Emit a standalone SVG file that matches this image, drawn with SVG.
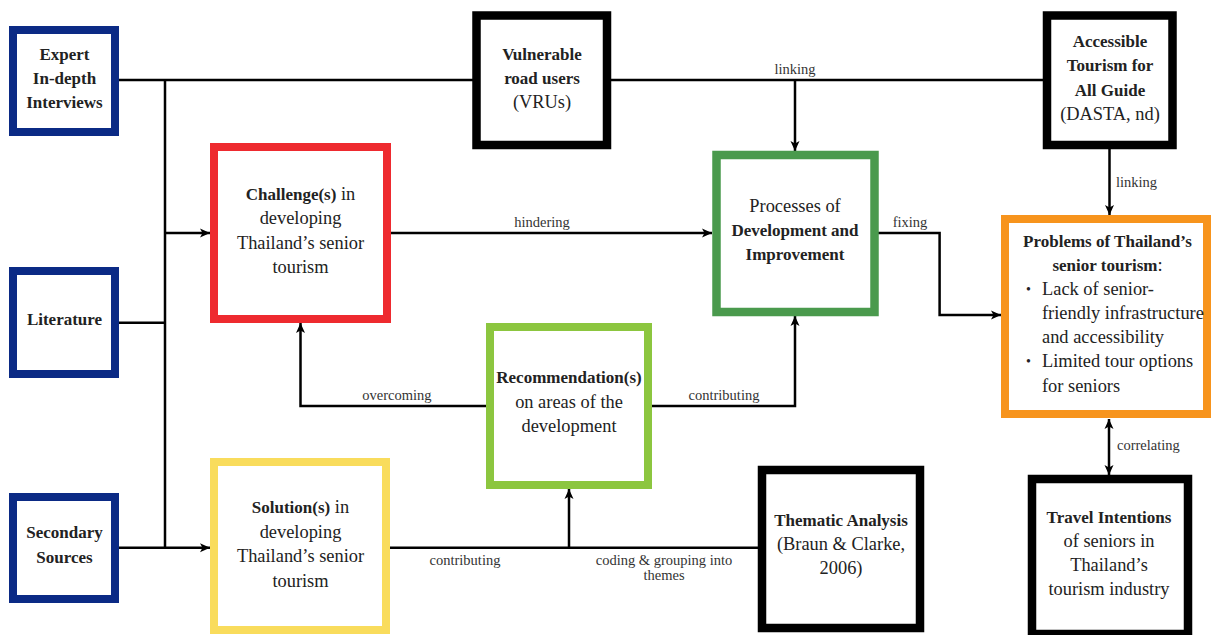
<svg xmlns="http://www.w3.org/2000/svg" width="1212" height="635" viewBox="0 0 1212 635">
  <style>
    .box { fill: #ffffff; stroke-width: 8; }
    .navy { stroke: #0b2a85; }
    .blk { stroke: #000000; stroke-width: 8.5; }
    .red { stroke: #ee2a2f; }
    .dgreen { stroke: #4a9a4d; stroke-width: 8.5; }
    .lgreen { stroke: #8cc63f; }
    .yellow { stroke: #f9dc5c; }
    .orange { stroke: #f7941d; }
    text { font-family: "Liberation Serif", "Times New Roman", serif; fill: #222222; }
    .t { font-size: 18.4px; text-anchor: middle; }
    .b { font-weight: bold; font-size: 17px; }
    .lbl { font-size: 14.5px; fill: #333333; }
    .mid { text-anchor: middle; }
    .wire { fill: none; stroke: #000000; stroke-width: 2.5; }
    .arr { marker-end: url(#head); }
  </style>
  <defs>
    <marker id="head" markerUnits="userSpaceOnUse" markerWidth="11" markerHeight="10" refX="10" refY="5" orient="auto-start-reverse">
      <path d="M0,0.5 L10,5 L0,9.5 L2.5,5 z" fill="#000000"/>
    </marker>
  </defs>

  <!-- connectors -->
  <g id="connectors">
    <path class="wire" d="M119,80 H1043"/>
    <path class="wire" d="M165,80 V547.7"/>
    <path class="wire" d="M119,322.7 H165"/>
    <path class="wire arr" d="M165,233 H210"/>
    <path class="wire arr" d="M119,547.7 H210"/>
    <path class="wire arr" d="M795,80 V151"/>
    <path class="wire arr" d="M391,233 H712"/>
    <path class="wire arr" d="M878,233 H939.6 V315 H1001"/>
    <path class="wire arr" d="M1109.5,149 V215"/>
    <path class="wire arr" d="M1109,419 V475" style="marker-start: url(#head)"/>
    <path class="wire arr" d="M486,406 H300.5 V323"/>
    <path class="wire arr" d="M652,406 H795 V316"/>
    <path class="wire" d="M390,547.7 H758"/>
    <path class="wire arr" d="M569,547.7 V489"/>

    <text class="lbl mid" x="795" y="74">linking</text>
    <text class="lbl mid" x="542" y="227">hindering</text>
    <text class="lbl mid" x="910" y="227">fixing</text>
    <text class="lbl" x="1116" y="187">linking</text>
    <text class="lbl mid" x="397" y="400">overcoming</text>
    <text class="lbl mid" x="724" y="400">contributing</text>
    <text class="lbl mid" x="465" y="565">contributing</text>
    <text class="lbl mid" x="664" y="565">coding &amp; grouping into</text>
    <text class="lbl mid" x="664" y="580">themes</text>
    <text class="lbl" x="1117" y="450">correlating</text>
  </g>

  <!-- source boxes -->
  <g id="expert">
    <rect class="box navy" x="13" y="30" width="102" height="102"/>
    <text class="t b" x="64.5" y="60">Expert</text>
    <text class="t b" x="64.5" y="84">In-depth</text>
    <text class="t b" x="64.5" y="108">Interviews</text>
  </g>
  <g id="literature">
    <rect class="box navy" x="13" y="271" width="102" height="103"/>
    <text class="t b" x="64.5" y="325">Literature</text>
  </g>
  <g id="secondary">
    <rect class="box navy" x="13" y="497" width="102" height="102"/>
    <text class="t b" x="64.5" y="538">Secondary</text>
    <text class="t b" x="64.5" y="563">Sources</text>
  </g>

  <g id="vrus">
    <rect class="box blk" x="476.5" y="15.5" width="130.5" height="129.5"/>
    <text class="t b" x="542" y="60">Vulnerable</text>
    <text class="t b" x="542" y="84">road users</text>
    <text class="t" x="542" y="108">(VRUs)</text>
  </g>

  <g id="dasta">
    <rect class="box blk" x="1047" y="15.5" width="125.5" height="129.5"/>
    <text class="t b" x="1110" y="47">Accessible</text>
    <text class="t b" x="1110" y="71">Tourism for</text>
    <text class="t b" x="1110" y="96">All Guide</text>
    <text class="t" x="1110" y="120">(DASTA, nd)</text>
  </g>

  <g id="challenge">
    <rect class="box red" x="214" y="147" width="173" height="172"/>
    <text class="t" x="300.5" y="200"><tspan class="b">Challenge(s)</tspan> in</text>
    <text class="t" x="300.5" y="224">developing</text>
    <text class="t" x="300.5" y="249">Thailand’s senior</text>
    <text class="t" x="300.5" y="273">tourism</text>
  </g>

  <g id="processes">
    <rect class="box dgreen" x="716.5" y="155" width="158" height="157"/>
    <text class="t" x="795" y="212">Processes of</text>
    <text class="t b" x="795" y="236">Development and</text>
    <text class="t b" x="795" y="260">Improvement</text>
  </g>

  <g id="recommendation">
    <rect class="box lgreen" x="490" y="327" width="158" height="158"/>
    <text class="t b" x="569" y="383">Recommendation(s)</text>
    <text class="t" x="569" y="408">on areas of the</text>
    <text class="t" x="569" y="432">development</text>
  </g>

  <g id="problems">
    <rect class="box orange" x="1005" y="219" width="202" height="195"/>
    <text class="t b" x="1107.5" y="247">Problems of Thailand’s</text>
    <text class="t" x="1107.5" y="271"><tspan class="b">senior tourism</tspan>:</text>
    <text font-size="14" x="1026" y="294">•</text>
    <text font-size="18.4" x="1042" y="295">Lack of senior-</text>
    <text font-size="18.4" x="1042" y="319">friendly infrastructure</text>
    <text font-size="18.4" x="1042" y="343">and accessibility</text>
    <text font-size="14" x="1026" y="366">•</text>
    <text font-size="18.4" x="1042" y="367">Limited tour options</text>
    <text font-size="18.4" x="1042" y="392">for seniors</text>
  </g>

  <g id="solution">
    <rect class="box yellow" x="214" y="462" width="172" height="168"/>
    <text class="t" x="300.5" y="513"><tspan class="b">Solution(s)</tspan> in</text>
    <text class="t" x="300.5" y="537.5">developing</text>
    <text class="t" x="300.5" y="562">Thailand’s senior</text>
    <text class="t" x="300.5" y="586.5">tourism</text>
  </g>

  <g id="thematic">
    <rect class="box blk" x="762" y="470" width="158" height="158"/>
    <text class="t b" x="841" y="526">Thematic Analysis</text>
    <text class="t" x="841" y="550">(Braun &amp; Clarke,</text>
    <text class="t" x="841" y="574">2006)</text>
  </g>

  <g id="travel">
    <rect class="box blk" x="1032" y="479" width="156" height="155"/>
    <text class="t b" x="1109" y="523">Travel Intentions</text>
    <text class="t" x="1109" y="547">of seniors in</text>
    <text class="t" x="1109" y="571">Thailand’s</text>
    <text class="t" x="1109" y="595">tourism industry</text>
  </g>
</svg>
